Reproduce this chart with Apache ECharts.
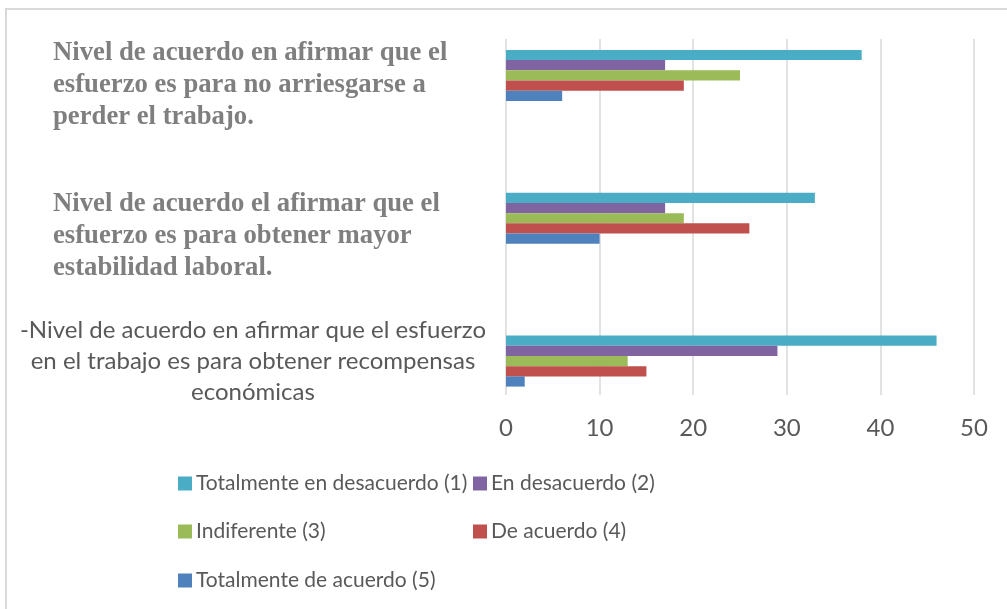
<!DOCTYPE html>
<html>
<head>
<meta charset="utf-8">
<script src="https://cdn.jsdelivr.net/npm/echarts@6/dist/echarts.min.js"></script>
<style>
html,body{margin:0;padding:0;background:#fff;}
#c{width:1007px;height:609px;}
</style>
</head>
<body>
<div id="c"></div>
<script>
// categories bottom-to-top (as on the category axis)
const categories = [
  "-Nivel de acuerdo en afirmar que el esfuerzo\nen el trabajo es para obtener recompensas\neconómicas",
  "Nivel de acuerdo el afirmar que el\nesfuerzo es para obtener mayor\nestabilidad laboral.",
  "Nivel de acuerdo en afirmar que el\nesfuerzo es para no arriesgarse a\nperder el trabajo."
];
const seriesNames = [
  "Totalmente en desacuerdo (1)",
  "En desacuerdo (2)",
  "Indiferente (3)",
  "De acuerdo (4)",
  "Totalmente de acuerdo (5)"
];
const totalmenteDesacuerdo = [46, 33, 38];
const enDesacuerdo = [29, 17, 17];
const indiferente = [13, 19, 25];
const deAcuerdo = [15, 26, 19];
const totalmenteAcuerdo = [2, 10, 6];
const xTicks = [0, 10, 20, 30, 40, 50];

const seriesValues = [totalmenteDesacuerdo, enDesacuerdo, indiferente, deAcuerdo, totalmenteAcuerdo];
const colors = ['#4BACC6', '#8064A2', '#9BBB59', '#C0504D', '#4F81BD'];

const chart = echarts.init(document.getElementById('c'));

const legendPos = [
  {left: 178, top: 473},
  {left: 473, top: 473},
  {left: 178, top: 521},
  {left: 473, top: 521},
  {left: 178, top: 570}
];

const option = {
  backgroundColor: '#fff',
  animation: false,
  graphic: [{
    type: 'rect',
    shape: {x: 6, y: 9, width: 1100, height: 700},
    style: {fill: 'none', stroke: '#d9d9d9', lineWidth: 2},
    silent: true
  }],
  grid: [
    {left: 506, right: 33, top: 39, bottom: 214},
    {left: 506, right: 33, top: 4, height: 428.5}
  ],
  xAxis: [
    {
      gridIndex: 0, type: 'value', min: xTicks[0], max: xTicks[xTicks.length - 1], interval: 10,
      axisLine: {show: false}, axisTick: {show: false},
      splitLine: {show: true, lineStyle: {color: '#d9d9d9', width: 1.5}},
      axisLabel: {color: '#595959', fontFamily: 'Lato', fontSize: 24, margin: 21}
    },
    {
      gridIndex: 1, type: 'value', min: xTicks[0], max: xTicks[xTicks.length - 1], interval: 10,
      show: false
    }
  ],
  yAxis: [
    {gridIndex: 0, type: 'value', show: false},
    {
      gridIndex: 1, type: 'category', data: categories,
      axisLine: {show: false}, axisTick: {show: false}, splitLine: {show: false},
      axisLabel: {
        margin: 253,
        align: 'center',
        formatter: function (v, i) {
          if (i === 0) return '{c|' + v + '}';
          if (i === 1) return '{s2| }\n{a|' + v + '}';
          return '{s1| }\n{a|' + v + '}';
        },
        rich: {
          a: {fontFamily: 'Liberation Serif', fontWeight: 'bold', fontSize: 26.7, color: '#7f7f7f', lineHeight: 32, width: 400, align: 'left'},
          c: {fontFamily: 'Lato', fontSize: 24, color: '#595959', lineHeight: 31, width: 462, align: 'center'},
          s1: {fontSize: 10, lineHeight: 19, height: 19},
          s2: {fontSize: 10, lineHeight: 36, height: 36}
        }
      }
    }
  ],
  legend: seriesNames.map((n, i) => ({
    data: [n],
    left: legendPos[i].left,
    top: legendPos[i].top,
    itemWidth: 14, itemHeight: 14, icon: 'rect',
    padding: 0,
    textStyle: {color: '#595959', fontFamily: 'Lato', fontSize: 21, padding: [0, 0, 0, -1]}
  })),
  series: seriesNames.map((n, i) => ({
    name: n,
    type: 'bar',
    xAxisIndex: 1, yAxisIndex: 1,
    data: seriesValues[i],
    barWidth: 10.2,
    barGap: '0%',
    itemStyle: {color: colors[i]}
  }))
};
chart.setOption(option);
</script>
</body>
</html>
